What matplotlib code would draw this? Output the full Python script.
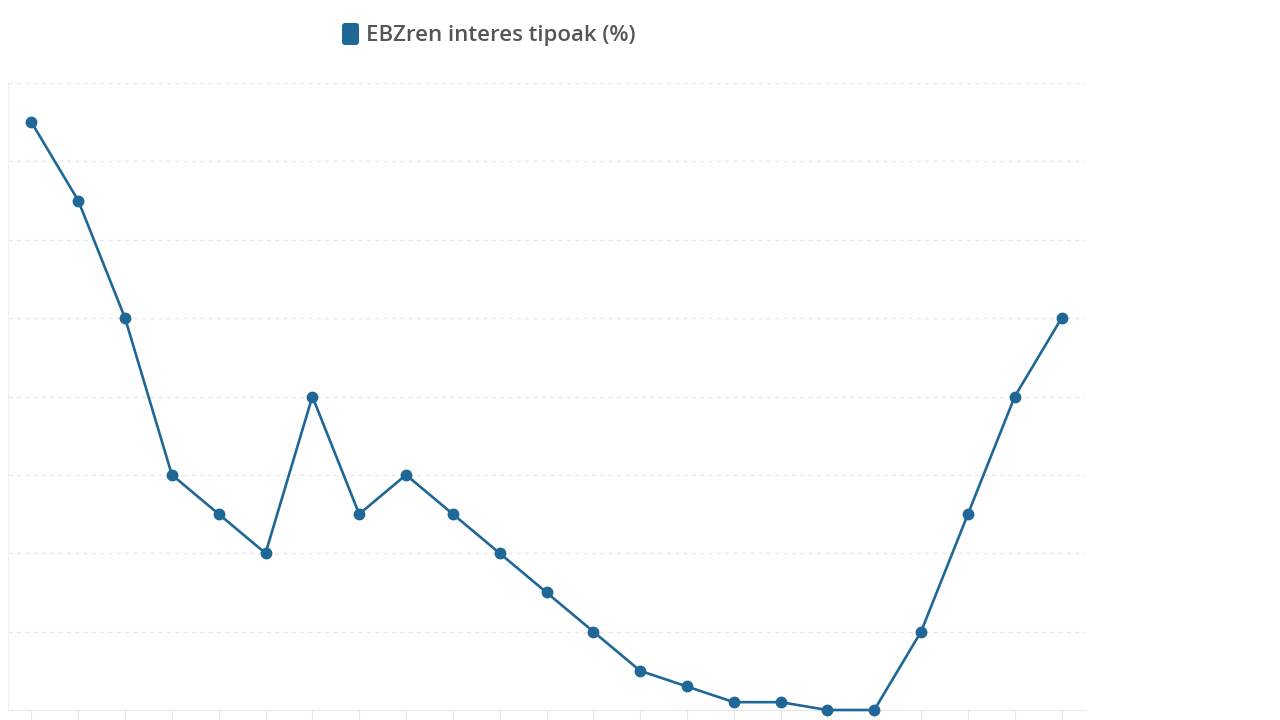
import matplotlib.pyplot as plt
from matplotlib.patches import FancyBboxPatch

plt.rcParams['font.family'] = ['Open Sans', 'DejaVu Sans']

# EBZren interes tipoak (%)
indices = list(range(23))
rates = [3.75, 3.25, 2.5, 1.5, 1.25, 1.0, 2.0, 1.25, 1.5, 1.25, 1.0, 0.75, 0.5,
         0.25, 0.15, 0.05, 0.05, 0.0, 0.0, 0.5, 1.25, 2.0, 2.5]
series_label = "EBZren interes tipoak (%)"
line_color = "#1f6796"

fig = plt.figure(figsize=(12.8, 7.2), dpi=100)
ax = fig.add_axes([8 / 1280, 10 / 720, 1077 / 1280, 627 / 720])

ax.plot(indices, rates, color=line_color, linewidth=1.9, marker="o",
        markersize=7.5, clip_on=False, zorder=3)

ax.set_xlim(-0.5, 22.5)
ax.set_ylim(0, 4)
ax.set_yticks([0.5 * i for i in range(9)])
ax.set_xticks(indices)
ax.tick_params(axis="x", length=9, color="#e8e8ec", labelbottom=False)
ax.tick_params(axis="y", length=0, labelleft=False)
ax.grid(axis="y", color="#e6e6ea", linestyle=(0, (3, 3)), linewidth=1)
ax.set_axisbelow(True)

for side in ["top", "right"]:
    ax.spines[side].set_visible(False)
ax.spines["left"].set_color("#f0f0f4")
ax.spines["bottom"].set_color("#e8e8ec")

# legend: rounded swatch + label (pixel coords, dpi 100)
swatch = FancyBboxPatch((342, 675), 17, 22, boxstyle="round,pad=0,rounding_size=3",
                        transform=None, facecolor=line_color, edgecolor="none")
fig.patches.append(swatch)
fig.text(366 / 1280, 1 - 36 / 720, series_label, ha="left", va="center",
         fontsize=16, fontweight="semibold", color="#555555")

fig.savefig("out.png", dpi=100)
